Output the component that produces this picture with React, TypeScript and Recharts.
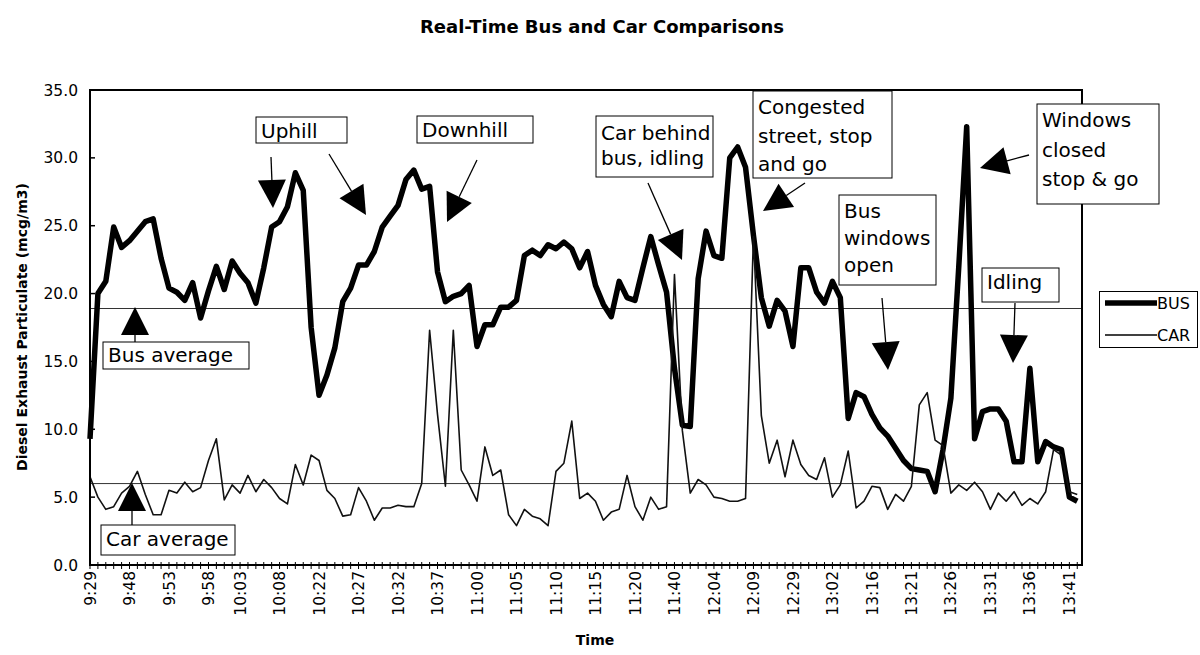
import React from 'react';
import { LineChart, Line, XAxis, YAxis, ReferenceLine, Legend } from 'recharts';

// readings, one per sample (about 7.9 px apart on the original)
const bus = [
  9.3, 20.0, 20.9, 24.9, 23.4, 23.9, 24.6, 25.3, 25.5, 22.6,
  20.4, 20.1, 19.5, 20.8, 18.2, 20.2, 22.0, 20.3, 22.4, 21.5,
  20.8, 19.3, 21.9, 24.9, 25.3, 26.4, 28.9, 27.6, 17.5, 12.5,
  14.0, 16.0, 19.4, 20.4, 22.1, 22.1, 23.1, 24.9, 25.7, 26.5,
  28.4, 29.1, 27.7, 27.9, 21.6, 19.4, 19.8, 20.0, 20.6, 16.1,
  17.7, 17.7, 19.0, 19.0, 19.5, 22.8, 23.2, 22.8, 23.6, 23.3,
  23.8, 23.3, 21.9, 23.1, 20.6, 19.2, 18.3, 20.9, 19.7, 19.5,
  21.9, 24.2, 22.1, 20.1, 14.5, 10.3, 10.2, 21.1, 24.6, 22.8,
  22.6, 30.0, 30.8, 29.3, 24.3, 19.7, 17.6, 19.5, 18.7, 16.1,
  21.9, 21.9, 20.1, 19.3, 20.9, 19.7, 10.8, 12.7, 12.4, 11.1,
  10.1, 9.5, 8.6, 7.7, 7.1, 7.0, 6.9, 5.4, 8.5, 12.3,
  22.0, 32.3, 9.3, 11.3, 11.5, 11.5, 10.6, 7.6, 7.6, 14.5,
  7.6, 9.1, 8.7, 8.5, 5.0, 4.7,
];

const car = [
  6.5, 5.0, 4.1, 4.3, 5.3, 5.8, 6.9, 5.2, 3.7, 3.7,
  5.5, 5.3, 6.1, 5.4, 5.7, 7.7, 9.3, 4.8, 5.9, 5.3,
  6.6, 5.4, 6.3, 5.7, 4.9, 4.5, 7.4, 5.9, 8.1, 7.7,
  5.5, 4.9, 3.6, 3.7, 5.7, 4.7, 3.3, 4.2, 4.2, 4.4,
  4.3, 4.3, 6.0, 17.3, 11.1, 5.8, 17.3, 7.0, 5.9, 4.7,
  8.7, 6.6, 7.0, 3.7, 2.9, 4.1, 3.6, 3.4, 2.9, 6.9,
  7.5, 10.6, 4.9, 5.3, 4.7, 3.3, 3.9, 4.1, 6.6, 4.3,
  3.3, 5.0, 4.1, 4.3, 21.4, 9.9, 5.3, 6.3, 5.9, 5.0,
  4.9, 4.7, 4.7, 4.9, 24.2, 11.0, 7.5, 9.2, 6.5, 9.2,
  7.4, 6.6, 6.3, 7.9, 5.0, 5.9, 8.4, 4.2, 4.7, 5.8,
  5.7, 4.1, 5.2, 4.7, 5.8, 11.8, 12.7, 9.2, 8.8, 5.3,
  5.9, 5.5, 6.1, 5.4, 4.1, 5.3, 4.7, 5.4, 4.4, 4.9,
  4.5, 5.4, 8.5, 8.1, 5.4, 5.2,
];

// sample index -> time label shown on the axis
const timeLabels: [number, string][] = [
  [0, '9:29'], [5, '9:48'], [10, '9:53'], [15, '9:58'], [19, '10:03'],
  [24, '10:08'], [29, '10:22'], [34, '10:27'], [39, '10:32'], [44, '10:37'],
  [49, '11:00'], [54, '11:05'], [59, '11:10'], [64, '11:15'], [69, '11:20'],
  [74, '11:40'], [79, '12:04'], [84, '12:09'], [89, '12:29'], [94, '13:02'],
  [99, '13:16'], [104, '13:21'], [109, '13:26'], [114, '13:31'], [119, '13:36'],
  [124, '13:41'],
];

const busAverage = 18.9;
const carAverage = 6.0;
const yTicks = [0, 5, 10, 15, 20, 25, 30, 35];

const data = bus.map((b, i) => ({ i, bus: b, car: car[i] }));
const allTicks = bus.map((_, i) => i);
const labelAt = new Map(timeLabels);

const FONT = '"DejaVu Sans", sans-serif';

// annotation boxes and arrows (pixel layout)
const notes = [
  { x: 256, y: 117, w: 91, h: 26, lines: ['Uphill'], base: [138], arrows: [[271, 157, 273, 208], [329, 154, 366, 215]] },
  { x: 417, y: 116, w: 116, h: 27, lines: ['Downhill'], base: [137], arrows: [[477, 160, 447, 222]] },
  { x: 103, y: 342, w: 146, h: 27, lines: ['Bus average'], base: [362], arrows: [[135, 342, 135, 307]] },
  { x: 101, y: 525, w: 134, h: 30, lines: ['Car average'], base: [546], arrows: [[132, 525, 132, 483]] },
  { x: 596, y: 116, w: 117, h: 61, lines: ['Car behind', 'bus, idling'], base: [140, 165], arrows: [[648, 183, 682, 260]] },
  { x: 753, y: 91, w: 139, h: 87, lines: ['Congested', 'street, stop', 'and go'], base: [114, 143, 171], arrows: [[805, 183, 763, 211]] },
  { x: 839, y: 195, w: 97, h: 90, lines: ['Bus', 'windows', 'open'], base: [218, 245, 272], arrows: [[882, 298, 888, 370]] },
  { x: 1037, y: 104, w: 122, h: 100, lines: ['Windows', 'closed', 'stop & go'], base: [127, 157, 186], arrows: [[1029, 155, 980, 168]] },
  { x: 982, y: 268, w: 77, h: 34, lines: ['Idling'], base: [289], arrows: [[1015, 303, 1013, 363]] },
];

const Arrow = ({ a }: { a: number[] }) => {
  const [x1, y1, x2, y2] = a;
  const len = Math.hypot(x2 - x1, y2 - y1);
  const ux = (x2 - x1) / len;
  const uy = (y2 - y1) / len;
  const head = 28;
  const half = 14;
  const bx = x2 - ux * head;
  const by = y2 - uy * head;
  const pts = `${x2},${y2} ${bx - uy * half},${by + ux * half} ${bx + uy * half},${by - ux * half}`;
  return (
    <g>
      <line x1={x1} y1={y1} x2={bx} y2={by} stroke="#000" strokeWidth={1.3} />
      <polygon points={pts} fill="#000" />
    </g>
  );
};

const XTick = (props: any) => {
  const { x, y, payload } = props;
  const label = labelAt.get(payload.value);
  return (
    <g>
      <line x1={x} x2={x} y1={y - 3} y2={y + 4} stroke="#000" strokeWidth={1} />
      {label && (
        <text
          transform={`translate(${x},${y + 6}) rotate(-90)`}
          dy="0.36em"
          textAnchor="end"
          fontSize={15.5}
          fontFamily={FONT}
          fill="#000"
        >
          {label}
        </text>
      )}
    </g>
  );
};

const YTick = (props: any) => {
  const { x, y, payload } = props;
  return (
    <g>
      <line x1={x} x2={x + 5} y1={y} y2={y} stroke="#000" strokeWidth={1.5} />
      <text x={x - 12} y={y} dy="0.36em" textAnchor="end" fontSize={15.5} fontFamily={FONT} fill="#000">
        {Number(payload.value).toFixed(1)}
      </text>
    </g>
  );
};

const renderLegend = (props: any) => {
  const items = props.payload || [];
  return (
    <div style={{ width: 99, height: 57, border: '1px solid #000', background: '#fff', boxSizing: 'border-box' }}>
      <svg width={99} height={57}>
        {items.map((entry: any, idx: number) => {
          const cy = 11 + idx * 32;
          const sw = entry.payload?.strokeWidth ?? 2;
          return (
            <g key={entry.value}>
              <line x1={5} x2={57} y1={cy} y2={cy} stroke="#000" strokeWidth={sw} />
              <text x={57} y={cy} dy="0.36em" fontSize={16} fontFamily={FONT} fill="#000">
                {entry.value}
              </text>
            </g>
          );
        })}
      </svg>
    </div>
  );
};

export default function App() {
  return (
    <div style={{ position: 'absolute', left: 0, top: 0, width: 1200, height: 655, background: '#fff' }}>
      <LineChart width={1200} height={655} data={data} margin={{ top: 90, right: 118, left: 30, bottom: 30 }}>
        <XAxis
          type="number"
          dataKey="i"
          domain={[0, 125.6]}
          ticks={allTicks}
          interval={0}
          height={60}
          tickSize={0}
          tickMargin={0}
          tickLine={false}
          axisLine={false}
          tick={XTick}
        />
        <YAxis
          type="number"
          domain={[0, 35]}
          ticks={yTicks}
          interval={0}
          width={60}
          tickSize={0}
          tickMargin={0}
          tickLine={false}
          axisLine={false}
          tick={YTick}
        />
        <ReferenceLine y={busAverage} stroke="#333" strokeWidth={1} />
        <ReferenceLine y={carAverage} stroke="#333" strokeWidth={1} />
        <Line
          type="linear"
          dataKey="bus"
          name="BUS"
          stroke="#000"
          strokeWidth={5.5}
          strokeLinejoin="round"
          dot={false}
          isAnimationActive={false}
        />
        <Line
          type="linear"
          dataKey="car"
          name="CAR"
          stroke="#111"
          strokeWidth={1.6}
          strokeLinejoin="round"
          dot={false}
          isAnimationActive={false}
        />
        <Legend
          layout="vertical"
          align="center"
          verticalAlign="middle"
          wrapperStyle={{ position: 'absolute', left: 1099, top: 291, width: 99, height: 57 }}
          content={renderLegend}
        />
      </LineChart>
      <svg
        width={1200}
        height={655}
        style={{ position: 'absolute', left: 0, top: 0, pointerEvents: 'none' }}
      >
        <rect x={90} y={90} width={992} height={475} fill="none" stroke="#000" strokeWidth={2} />
        <text x={602} y={33} textAnchor="middle" fontSize={18} fontWeight="bold" fontFamily={FONT}>
          Real-Time Bus and Car Comparisons
        </text>
        <text
          transform="translate(22,327) rotate(-90)"
          dy="0.36em"
          textAnchor="middle"
          fontSize={14}
          fontWeight="bold"
          fontFamily={FONT}
        >
          Diesel Exhaust Particulate (mcg/m3)
        </text>
        <text x={595} y={645} textAnchor="middle" fontSize={14} fontWeight="bold" fontFamily={FONT}>
          Time
        </text>
        {notes.map((n) => (
          <g key={n.lines[0]}>
            {n.arrows.map((a, k) => (
              <Arrow key={k} a={a} />
            ))}
            <rect x={n.x} y={n.y} width={n.w} height={n.h} fill="#fff" stroke="#000" strokeWidth={1} />
            {n.lines.map((t, k) => (
              <text key={t} x={n.x + 5} y={n.base[k]} fontSize={20} fontFamily={FONT} fill="#000">
                {t}
              </text>
            ))}
          </g>
        ))}
      </svg>
    </div>
  );
}
